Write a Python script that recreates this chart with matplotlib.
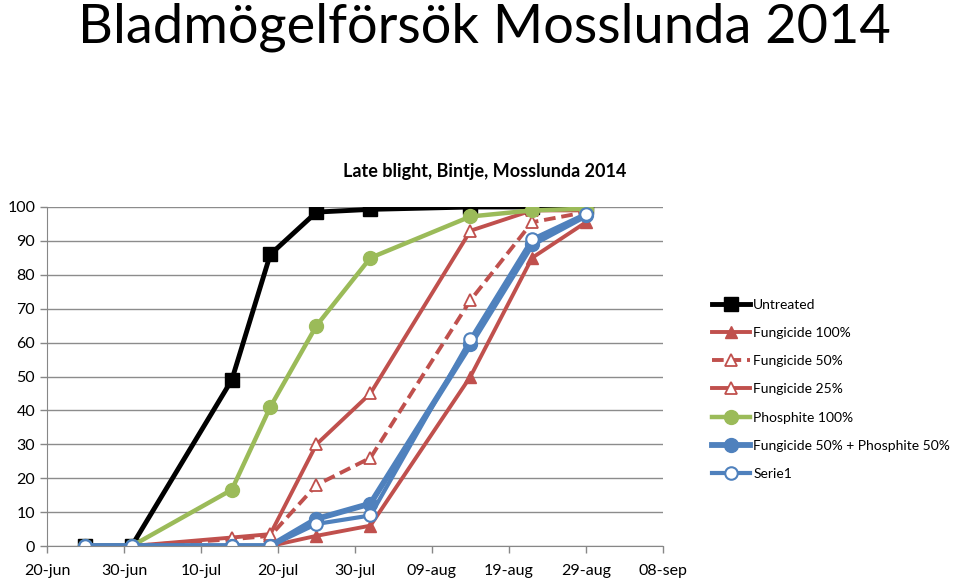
import matplotlib
matplotlib.use("Agg")
import matplotlib.pyplot as plt
import datetime as dt

plt.rcParams['font.family'] = ['Lato', 'DejaVu Sans']

dates = ["2014-06-25", "2014-07-01", "2014-07-14", "2014-07-19", "2014-07-25",
         "2014-08-01", "2014-08-14", "2014-08-22", "2014-08-29"]
untreated = [0, 0, 49, 86, 98.5, 99.3, 100, 100, 100]
fung100 = [0, 0, 0, 0, 3, 6, 50, 85, 95.5]
fung50 = [0, 0, 2, 3, 18, 26, 72.5, 95.5, 98.5]
fung25 = [0, 0, 2.5, 3.5, 30, 45, 93, 99, 99]
phos100 = [0, 0, 16.6, 41, 65, 85, 97.2, 99, 99.5]
fp50 = [0, 0, 0, 0, 8, 12.5, 59.5, 89, 97.5]
serie1 = [0, 0, 0, 0, 6.5, 9, 61, 90.5, 98]
tick_labels = ["20-jun", "30-jun", "10-jul", "20-jul", "30-jul", "09-aug", "19-aug", "29-aug", "08-sep"]
title = "Bladmögelförsök Mosslunda 2014"
subtitle = "Late blight, Bintje, Mosslunda 2014"

x = [dt.datetime.strptime(d, "%Y-%m-%d") for d in dates]
start = dt.datetime(2014, 6, 20)
ticks = [start + dt.timedelta(days=10 * i) for i in range(len(tick_labels))]

RED = "#C0504D"
GREEN = "#9BBB59"
BLUE = "#4F81BD"

fig = plt.figure(figsize=(9.6, 5.81), dpi=100)
ax = fig.add_axes([47 / 960, 35 / 581, 616 / 960, 339 / 581])

series = [
    ("Untreated", untreated, dict(color="black", lw=3.5, marker="s", ms=10, mfc="black", mec="black", ls="-")),
    ("Fungicide 100%", fung100, dict(color=RED, lw=2.8, marker="^", ms=9, mfc=RED, mec=RED, ls="-")),
    ("Fungicide 50%", fung50, dict(color=RED, lw=2.8, marker="^", ms=9, mfc="white", mec=RED, mew=1.3, ls=(0, (3, 1.5)))),
    ("Fungicide 25%", fung25, dict(color=RED, lw=2.8, marker="^", ms=9, mfc="white", mec=RED, mew=1.3, ls="-")),
    ("Phosphite 100%", phos100, dict(color=GREEN, lw=3.2, marker="o", ms=10, mfc=GREEN, mec=GREEN, ls="-")),
    ("Fungicide 50% + Phosphite 50%", fp50, dict(color=BLUE, lw=4.2, marker="o", ms=10, mfc=BLUE, mec=BLUE, ls="-")),
    ("Serie1", serie1, dict(color=BLUE, lw=3.0, marker="o", ms=9, mfc="white", mec=BLUE, mew=1.5, ls="-")),
]
handles = []
for name, vals, st in series:
    ln, = ax.plot(x, vals, label=name, **st)
    handles.append(ln)

ax.set_xlim(start, ticks[-1])
ax.set_ylim(0, 100)
ax.set_xticks(ticks)
ax.set_xticklabels(tick_labels)
ax.set_yticks(range(0, 101, 10))
ax.tick_params(axis="both", labelsize=11.5, colors="#878787", labelcolor="black", length=5, width=1)
ax.tick_params(axis="x", pad=8)
ax.grid(axis="y", color="#8C8C8C", lw=1)
ax.set_axisbelow(True)
for s in ["top", "right"]:
    ax.spines[s].set_visible(False)
ax.spines["left"].set_color("#878787")
ax.spines["bottom"].set_color("#878787")

fig.text(484 / 960, 1 - 27 / 581, title, ha="center", va="center", fontsize=39)
fig.text(485 / 960, 1 - 172 / 581, subtitle, ha="center", va="center", fontsize=13, fontweight="bold")

leg = fig.legend(handles=handles, loc="upper left", bbox_to_anchor=(706 / 960, 1 - 293 / 581),
                 frameon=False, fontsize=10, handlelength=2.8, handletextpad=0.2,
                 labelspacing=1.17, borderaxespad=0)

fig.savefig("out.png", dpi=100)
